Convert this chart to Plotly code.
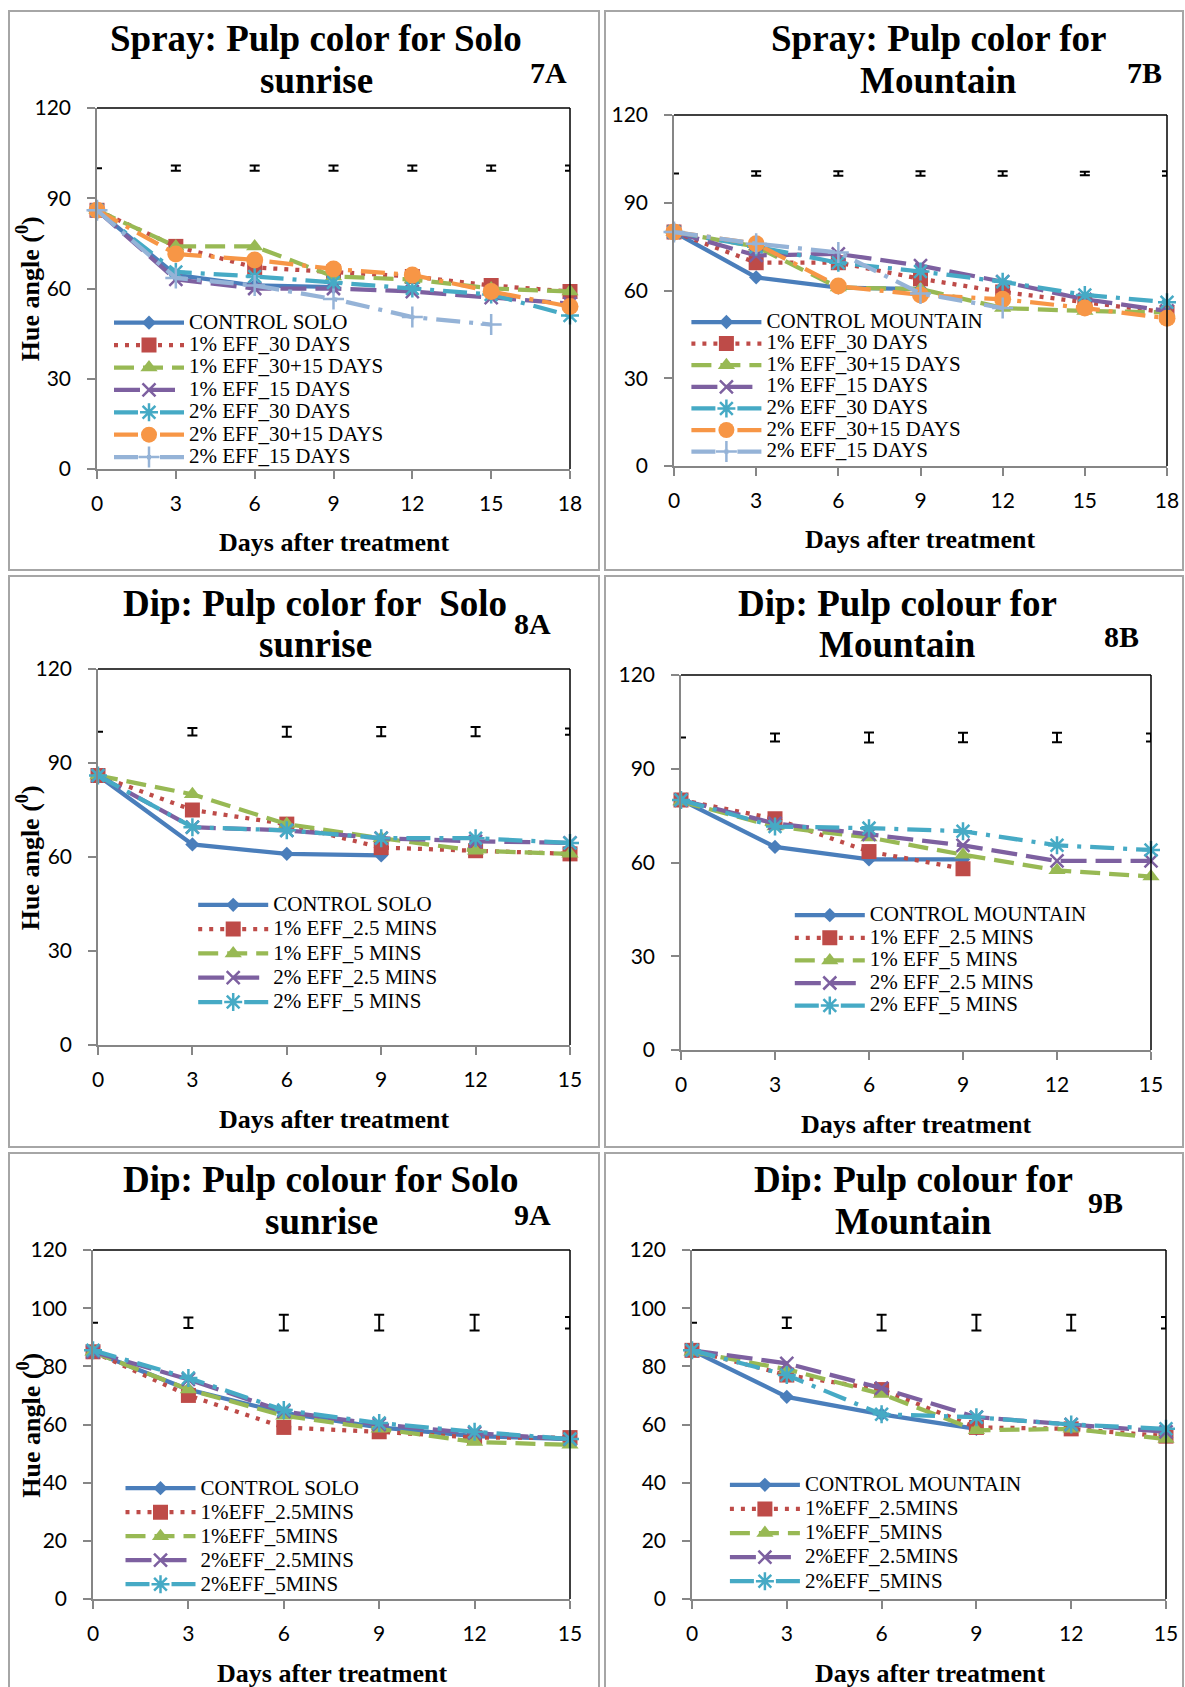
import plotly.graph_objects as go

W, H = 1185, 1687

# ---------------- data ----------------
days18 = [0, 3, 6, 9, 12, 15, 18]
days15 = [0, 3, 6, 9, 12, 15]

# 7A Spray Solo sunrise
sp_solo_control = [86, 64.5, 61, 60.5, None, None, None]
sp_solo_1_30 = [86, 74, 67, 65.5, 64, 61, 59]
sp_solo_1_3015 = [86, 74, 74, 64, 63, 60, 59]
sp_solo_1_15 = [86, 63, 60, 60, 59, 57, 55]
sp_solo_2_30 = [86, 65.5, 64, 62, 60, 58, 51]
sp_solo_2_3015 = [86, 71.5, 69.5, 66.5, 64.5, 59, 54]
sp_solo_2_15 = [86, 63.5, 61, 56.5, 50.5, 48, None]
sp_solo_err = [0, 0.9, 0.9, 0.9, 0.9, 0.9, 0.9]

# 7B Spray Mountain
sp_mt_control = [80, 64.5, 61, 60.5, None, None, None]
sp_mt_1_30 = [80, 69.5, 69.5, 64, 59.5, 56, 52.5]
sp_mt_1_3015 = [80, 75, 61, 60.5, 54, 53, 52.5]
sp_mt_1_15 = [80, 72, 72.5, 68.5, 63, 57, 53]
sp_mt_2_30 = [80, 75, 69.5, 66.5, 63, 58.5, 56]
sp_mt_2_3015 = [80, 76, 61.5, 58.5, 57, 54, 50.5]
sp_mt_2_15 = [80, 76, 73, 59, 54, None, None]
sp_mt_err = [0, 0.8, 0.8, 0.8, 0.8, 0.6, 0.8]

# 8A Dip Solo sunrise
d1_solo_control = [86, 64, 61, 60.5, None, None]
d1_solo_1_25 = [86, 75, 70.5, 63, 62, 61]
d1_solo_1_5 = [86, 80, 70.5, 66, 62, 61]
d1_solo_2_25 = [86, 69.5, 68.5, 66, 65, 64.5]
d1_solo_2_5 = [86, 69.5, 68.5, 66, 66, 64.5]
d1_solo_err = [0, 1.2, 1.6, 1.5, 1.5, 1.0]

# 8B Dip Mountain
d1_mt_control = [80, 65, 61, 61, None, None]
d1_mt_1_25 = [80, 74, 63.5, 58, None, None]
d1_mt_1_5 = [79.5, 71.5, 68, 62.5, 57.5, 55.5]
d1_mt_2_25 = [80, 72.5, 69, 65.5, 60.5, 60.5]
d1_mt_2_5 = [80, 71.5, 71, 70, 65.5, 64]
d1_mt_err = [0, 1.3, 1.6, 1.5, 1.5, 1.3]

# 9A Dip Solo sunrise
d2_solo_control = [85, 72, 64, 59, 56, 55]
d2_solo_1_25 = [85, 70, 59, 57.5, 55.5, 55.5]
d2_solo_1_5 = [85, 72, 63, 58.5, 54, 53]
d2_solo_2_25 = [85, 75.5, 64.5, 60, 57, 55]
d2_solo_2_5 = [85.5, 76, 65, 60.5, 57.5, 55]
d2_solo_err = [0, 1.8, 2.7, 2.7, 2.7, 2.0]

# 9B Dip Mountain
d2_mt_control = [85.5, 69.5, 63.5, 58.5, None, None]
d2_mt_1_25 = [85.5, 77, 72, 59, 58.5, 56]
d2_mt_1_5 = [85, 79, 70.5, 58, 58.5, 55]
d2_mt_2_25 = [85.5, 81, 72.5, 62.5, 60, 57.5]
d2_mt_2_5 = [85.5, 77, 63.5, 62.5, 60, 58.5]
d2_mt_err = [0, 1.8, 2.7, 2.7, 2.7, 2.0]

names_spray_solo = ["CONTROL SOLO", "1% EFF_30 DAYS", "1% EFF_30+15 DAYS", "1% EFF_15 DAYS",
                    "2% EFF_30 DAYS", "2% EFF_30+15 DAYS", "2% EFF_15 DAYS"]
names_spray_mt = ["CONTROL MOUNTAIN"] + names_spray_solo[1:]
names_d1_solo = ["CONTROL SOLO", "1% EFF_2.5 MINS", "1% EFF_5 MINS", "2% EFF_2.5 MINS", "2% EFF_5 MINS"]
names_d1_mt = ["CONTROL MOUNTAIN"] + names_d1_solo[1:]
names_d2_solo = ["CONTROL SOLO", "1%EFF_2.5MINS", "1%EFF_5MINS", "2%EFF_2.5MINS", "2%EFF_5MINS"]
names_d2_mt = ["CONTROL MOUNTAIN"] + names_d2_solo[1:]

# ---------------- styles ----------------
STY7 = [
    dict(color='#4A7EBB', dash='solid', symbol='diamond', size=11, thin=False),
    dict(color='#BE4B48', dash='4px,7px', symbol='square', size=15, thin=False),
    dict(color='#98B954', dash='20px,9px', symbol='triangle-up', size=15, thin=False),
    dict(color='#7D60A0', dash='26px,9px', symbol='x-thin-open', size=13, thin=True),
    dict(color='#46AAC5', dash='24px,9px,4px,9px', symbol='asterisk-open', size=15, thin=True),
    dict(color='#F79646', dash='24px,9px,4px,9px', symbol='circle', size=17, thin=False),
    dict(color='#95B3D7', dash='24px,9px,4px,9px', symbol='cross-thin-open', size=15, thin=True),
]
STY5 = [STY7[0], STY7[1], STY7[2], STY7[3], STY7[4]]

SERIF = "Liberation Serif"

panels = [
    dict(x=days18, series=[sp_solo_control, sp_solo_1_30, sp_solo_1_3015, sp_solo_1_15,
                           sp_solo_2_30, sp_solo_2_3015, sp_solo_2_15],
         names=names_spray_solo, sty=STY7, err=sp_solo_err, erry=100,
         plot=(97, 570, 108, 469), border=(9, 599, 11, 570), ydt=30, xmax=18,
         t1=("Spray: Pulp color for Solo", 316, 38.5), t2=("sunrise", 316, 80.7),
         lab=("7A", 548, 72.6), xt=(333.5, 542.7), yt=(28.7, 288.5),
         leg=(114, 322.7, 22.4)),
    dict(x=days18, series=[sp_mt_control, sp_mt_1_30, sp_mt_1_3015, sp_mt_1_15,
                           sp_mt_2_30, sp_mt_2_3015, sp_mt_2_15],
         names=names_spray_mt, sty=STY7, err=sp_mt_err, erry=100,
         plot=(674, 1167, 115, 466), border=(605, 1183, 11, 570), ydt=30, xmax=18,
         t1=("Spray: Pulp color for", 938.6, 38.5), t2=("Mountain", 938, 80.7),
         lab=("7B", 1144, 72.6), xt=(919.8, 539.8), yt=None,
         leg=(691.4, 322, 21.6)),
    dict(x=days15, series=[d1_solo_control, d1_solo_1_25, d1_solo_1_5, d1_solo_2_25, d1_solo_2_5],
         names=names_d1_solo, sty=STY5, err=d1_solo_err, erry=100,
         plot=(98, 570, 669, 1045), border=(9, 599, 576, 1147), ydt=30, xmax=15,
         t1=("Dip: Pulp color for  Solo", 315.3, 603.3), t2=("sunrise", 315.7, 644),
         lab=("8A", 532, 623.6), xt=(333.9, 1119.4), yt=(28.7, 857.6),
         leg=(198.2, 904.8, 24.3)),
    dict(x=days15, series=[d1_mt_control, d1_mt_1_25, d1_mt_1_5, d1_mt_2_25, d1_mt_2_5],
         names=names_d1_mt, sty=STY5, err=d1_mt_err, erry=100,
         plot=(681, 1151, 675, 1050), border=(605, 1183, 576, 1147), ydt=30, xmax=15,
         t1=("Dip: Pulp colour for", 897.8, 603.3), t2=("Mountain", 897.6, 644),
         lab=("8B", 1121.6, 636.6), xt=(916, 1124.2), yt=None,
         leg=(794.8, 915.2, 22.6)),
    dict(x=days15, series=[d2_solo_control, d2_solo_1_25, d2_solo_1_5, d2_solo_2_25, d2_solo_2_5],
         names=names_d2_solo, sty=STY5, err=d2_solo_err, erry=95,
         plot=(93, 570, 1250, 1599), border=(9, 599, 1153, 1700), ydt=20, xmax=15,
         t1=("Dip: Pulp colour for Solo", 320.7, 1179.6), t2=("sunrise", 321, 1221),
         lab=("9A", 532, 1214), xt=(331.6, 1673.9), yt=(28.7, 1425),
         leg=(125.5, 1488.2, 24.0)),
    dict(x=days15, series=[d2_mt_control, d2_mt_1_25, d2_mt_1_5, d2_mt_2_25, d2_mt_2_5],
         names=names_d2_mt, sty=STY5, err=d2_mt_err, erry=95,
         plot=(692, 1166, 1250, 1599), border=(605, 1183, 1153, 1700), ydt=20, xmax=15,
         t1=("Dip: Pulp colour for", 913.4, 1179.6), t2=("Mountain", 913, 1221),
         lab=("9B", 1105.6, 1202), xt=(929.5, 1673.9), yt=None,
         leg=(729.9, 1484.8, 24.1)),
]


def fx(v):
    return v / W


def fy(v):
    return 1 - v / H


fig = go.Figure()
layout = dict(width=W, height=H, margin=dict(l=0, r=0, t=0, b=0, pad=0, autoexpand=False),
              paper_bgcolor='white', plot_bgcolor='white', showlegend=True)
annotations = []
shapes = []

AXCOL = '#868686'

for i, p in enumerate(panels):
    k = '' if i == 0 else str(i + 1)
    xa, ya = 'x' + k, 'y' + k
    lg = 'legend' + k
    x0, x1, y0, y1 = p['plot']
    layout['xaxis' + k] = dict(domain=[fx(x0), fx(x1)], anchor=ya, range=[0, p['xmax']],
                               dtick=3, tick0=0, showgrid=False, zeroline=False,
                               showline=True, linecolor=AXCOL, linewidth=1.5,
                               ticks='outside', ticklen=8, tickwidth=1.5, tickcolor=AXCOL,
                               tickfont=dict(family='Lato', size=21, color='black'),
                               ticklabelstandoff=7, fixedrange=True, automargin=False)
    layout['yaxis' + k] = dict(domain=[fy(y1), fy(y0)], anchor=xa, range=[0, 120],
                               dtick=p['ydt'], tick0=0, showgrid=False, zeroline=False,
                               showline=True, linecolor=AXCOL, linewidth=1.5,
                               ticks='outside', ticklen=8, tickwidth=1.5, tickcolor=AXCOL,
                               tickfont=dict(family='Lato', size=21, color='black'),
                               ticklabelstandoff=12, fixedrange=True, automargin=False)
    # top and right frame lines
    shapes.append(dict(type='line', xref=xa + ' domain', yref=ya + ' domain', x0=0, x1=1, y0=1, y1=1,
                       line=dict(color='black', width=1.5)))
    shapes.append(dict(type='line', xref=xa + ' domain', yref=ya + ' domain', x0=1, x1=1, y0=0, y1=1,
                       line=dict(color='black', width=1.5)))
    # panel border
    bx0, bx1, by0, by1 = p['border']
    shapes.append(dict(type='rect', xref='paper', yref='paper', x0=fx(bx0), x1=fx(bx1),
                       y0=fy(by1), y1=fy(by0), line=dict(color='#A6A6A6', width=2)))

    # error bars row
    fig.add_trace(go.Scatter(x=p['x'], y=[p['erry']] * len(p['x']), mode='markers',
                             marker=dict(size=1, opacity=0), showlegend=False,
                             error_y=dict(type='data', array=p['err'], visible=True,
                                          color='black', thickness=2, width=5),
                             xaxis=xa, yaxis=ya, cliponaxis=False, hoverinfo='skip'))

    for ys, nm, st in zip(p['series'], p['names'], p['sty']):
        if st['thin']:
            mk = dict(symbol=st['symbol'], size=st['size'], color=st['color'],
                      line=dict(color=st['color'], width=2.5))
        else:
            mk = dict(symbol=st['symbol'], size=st['size'], color=st['color'],
                      line=dict(width=0))
        fig.add_trace(go.Scatter(
            x=p['x'], y=ys, mode='lines+markers',
            name='<span style="font-size:21px">' + nm + '</span>',
            line=dict(color=st['color'], width=4.25, dash=st['dash']),
            marker=mk, xaxis=xa, yaxis=ya, legend=lg, cliponaxis=False,
            connectgaps=False))

    lx, ly, lh = p['leg']
    fsz = (lh - 3) / 1.3
    layout[lg] = dict(x=fx(lx - 5), y=fy(ly - 5 - lh / 2), xanchor='left', yanchor='top',
                      bgcolor='rgba(0,0,0,0)', borderwidth=0, itemwidth=70,
                      font=dict(family=SERIF, size=fsz, color='black'),
                      tracegroupgap=0, itemclick=False, itemdoubleclick=False)

    # titles
    for (txt, cx, cy) in (p['t1'], p['t2']):
        annotations.append(dict(text='<b>' + txt + '</b>', x=fx(cx), y=fy(cy), xref='paper', yref='paper',
                                xanchor='center', yanchor='middle', showarrow=False,
                                font=dict(family=SERIF, size=37, color='black')))
    txt, cx, cy = p['lab']
    annotations.append(dict(text='<b>' + txt + '</b>', x=fx(cx), y=fy(cy), xref='paper', yref='paper',
                            xanchor='center', yanchor='middle', showarrow=False,
                            font=dict(family=SERIF, size=30, color='black')))
    cx, cy = p['xt']
    annotations.append(dict(text='<b>Days after treatment</b>', x=fx(cx), y=fy(cy), xref='paper', yref='paper',
                            xanchor='center', yanchor='middle', showarrow=False,
                            font=dict(family=SERIF, size=26, color='black')))
    if p['yt']:
        cx, cy = p['yt']
        annotations.append(dict(text='<b>Hue angle (<sup>0</sup>)</b>', x=fx(cx), y=fy(cy),
                                xref='paper', yref='paper', textangle=-90,
                                xanchor='center', yanchor='middle', showarrow=False,
                                font=dict(family=SERIF, size=26, color='black')))

layout['annotations'] = annotations
layout['shapes'] = shapes
fig.update_layout(**layout)
fig.write_html("out.html")
